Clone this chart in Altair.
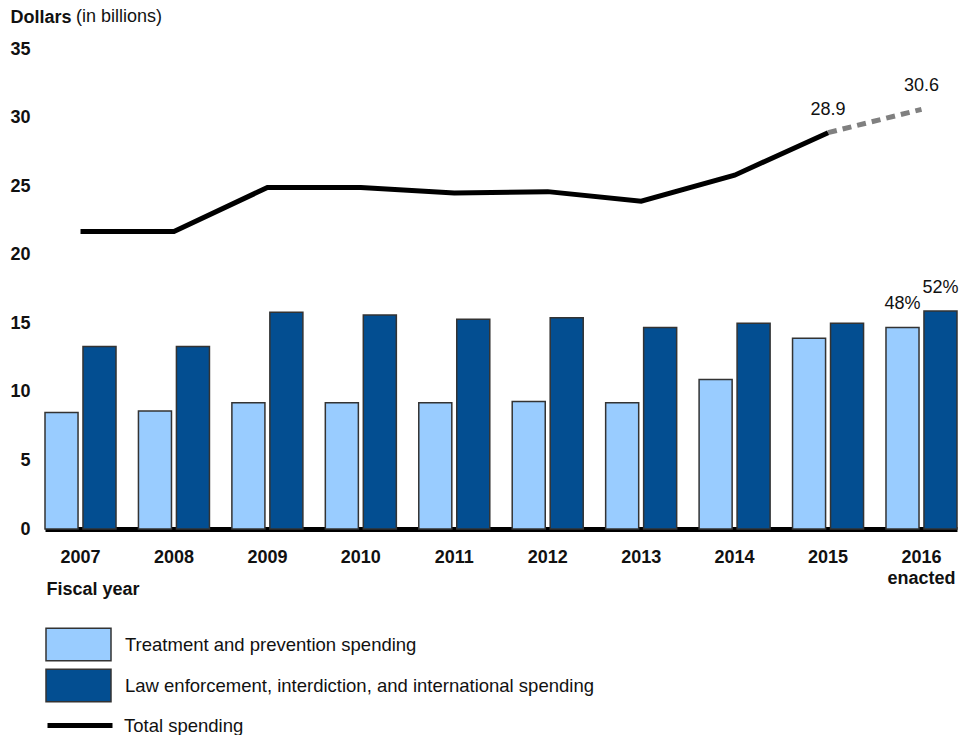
import altair as alt
import pandas as pd

# Fiscal years and spending (billions of dollars)
years = ["2007", "2008", "2009", "2010", "2011", "2012", "2013", "2014", "2015", "2016"]
treatment = [8.5, 8.6, 9.2, 9.2, 9.2, 9.3, 9.2, 10.9, 13.9, 14.7]
enforcement = [13.3, 13.3, 15.8, 15.6, 15.3, 15.4, 14.7, 15.0, 15.0, 15.9]
total = [21.7, 21.7, 24.9, 24.9, 24.5, 24.6, 23.9, 25.8, 28.9, 30.6]

cat_treat = "Treatment and prevention spending"
cat_enf = "Law enforcement, interdiction, and international spending"
cat_total = "Total spending"

FONT = "Liberation Sans"
LIGHT = "#99CCFF"
DARK = "#034E91"

bars_df = pd.DataFrame(
    [{"year": y, "category": cat_treat, "order": 0, "value": v, "total": t}
     for y, v, t in zip(years, treatment, total)]
    + [{"year": y, "category": cat_enf, "order": 1, "value": v, "total": t}
       for y, v, t in zip(years, enforcement, total)]
)
line_df = pd.DataFrame({"year": years, "total": total, "series": cat_total})

x_scale = alt.Scale(domain=years, paddingInner=0.24, paddingOuter=0)
y_scale = alt.Scale(domain=[0, 35], nice=False, zero=True)
offset_scale = alt.Scale(domain=[0, 1], paddingInner=0.13, paddingOuter=0)

x_axis = alt.Axis(
    title="Fiscal year",
    titleFont=FONT, titleFontSize=18, titleFontWeight="bold", titleColor="#111",
    titleAnchor="start", titleAlign="left", titleAngle=0,
    titleX=1, titleY=60, titleBaseline="middle",
    labelFont=FONT, labelFontSize=18, labelFontWeight="bold", labelColor="#111",
    labelAngle=0, labelPadding=19, labelLineHeight=21,
    labelExpr="datum.value == '2016' ? ['2016', 'enacted'] : datum.value",
    ticks=False, domain=True, domainColor="#000", domainWidth=5, grid=False,
)
y_axis = alt.Axis(
    title="Dollars",
    titleFont=FONT, titleFontSize=18, titleFontWeight="bold", titleColor="#111",
    titleAngle=0, titleAlign="left", titleBaseline="middle",
    titleX=-35, titleY=-32,
    values=[0, 5, 10, 15, 20, 25, 30, 35],
    labelFont=FONT, labelFontSize=18, labelFontWeight="bold", labelColor="#111",
    labelPadding=15, ticks=False, domain=False, grid=False,
)


def swatch_legend(y_pos):
    return alt.Legend(
        title=None, orient="none", legendX=0, legendY=y_pos,
        symbolType="M-1,-0.5H1V0.5H-1Z", symbolSize=4225,
        symbolStrokeColor="#333", symbolStrokeWidth=1.5, symbolOpacity=1,
        labelFont=FONT, labelFontSize=18.5, labelColor="#111", labelOffset=13,
        padding=0, labelLimit=700,
    )


def spending_bars(category, color, legend_y, first=False):
    x_kw = {"axis": x_axis} if first else {}
    y_kw = {"axis": y_axis} if first else {}
    return alt.Chart(bars_df).transform_filter(
        alt.datum.category == category
    ).mark_bar(stroke="#333", strokeWidth=1.5).encode(
        x=alt.X("year:N", scale=x_scale, **x_kw),
        xOffset=alt.XOffset("order:O", scale=offset_scale),
        y=alt.Y("value:Q", scale=y_scale, **y_kw),
        fill=alt.Fill(
            "category:N",
            scale=alt.Scale(domain=[category], range=[color]),
            legend=swatch_legend(legend_y),
        ),
    )


treat_bars = spending_bars(cat_treat, LIGHT, 562, first=True)
enf_bars = spending_bars(cat_enf, DARK, 603)

# share of the 2016 budget written over its two bars
share_labels = alt.Chart(bars_df).transform_filter(
    alt.datum.year == "2016"
).transform_calculate(
    share="format(datum.value / datum.total, '.0%')"
).mark_text(font=FONT, fontSize=18, color="#111", dy=-23, baseline="middle").encode(
    x=alt.X("year:N", scale=x_scale),
    xOffset=alt.XOffset("order:O", scale=offset_scale),
    y=alt.Y("value:Q", scale=y_scale),
    text="share:N",
)

actual = alt.Chart(line_df).transform_filter(
    alt.datum.year != "2016"
).mark_line(strokeWidth=5, strokeCap="butt", strokeJoin="miter").encode(
    x=alt.X("year:N", scale=x_scale),
    y=alt.Y("total:Q", scale=y_scale),
    stroke=alt.Stroke(
        "series:N",
        scale=alt.Scale(domain=[cat_total], range=["#000"]),
        legend=alt.Legend(
            title=None, orient="none", legendX=0, legendY=641.5,
            symbolType="stroke", symbolSize=4225, symbolStrokeWidth=5,
            labelFont=FONT, labelFontSize=18.5, labelColor="#111", labelOffset=9,
            padding=0,
        ),
    ),
)

projected = alt.Chart(line_df).transform_filter(
    (alt.datum.year == "2015") | (alt.datum.year == "2016")
).mark_line(strokeWidth=5, strokeDash=[9, 6], color="#808080", strokeCap="butt").encode(
    x=alt.X("year:N", scale=x_scale),
    y=alt.Y("total:Q", scale=y_scale),
)

total_labels = alt.Chart(line_df).transform_filter(
    (alt.datum.year == "2015") | (alt.datum.year == "2016")
).mark_text(font=FONT, fontSize=18, color="#111", dy=-23, baseline="middle").encode(
    x=alt.X("year:N", scale=x_scale),
    y=alt.Y("total:Q", scale=y_scale),
    text=alt.Text("total:Q", format=".1f"),
)

unit_note = alt.Chart(pd.DataFrame({"t": ["(in billions)"]})).mark_text(
    font=FONT, fontSize=18, color="#111", align="left", baseline="middle"
).encode(x=alt.value(31), y=alt.value(-32), text="t:N")

chart = alt.layer(
    treat_bars, enf_bars, share_labels, projected, actual, total_labels, unit_note
).resolve_scale(fill="independent", stroke="independent").properties(
    width=912,
    height=480,
    background="white",
    autosize=alt.AutoSizeParams(type="none"),
    padding={"left": 45, "top": 49, "right": 15, "bottom": 206},
).configure_view(strokeWidth=0)

chart.save("out.html", embed_options={"renderer": "svg", "actions": False})
